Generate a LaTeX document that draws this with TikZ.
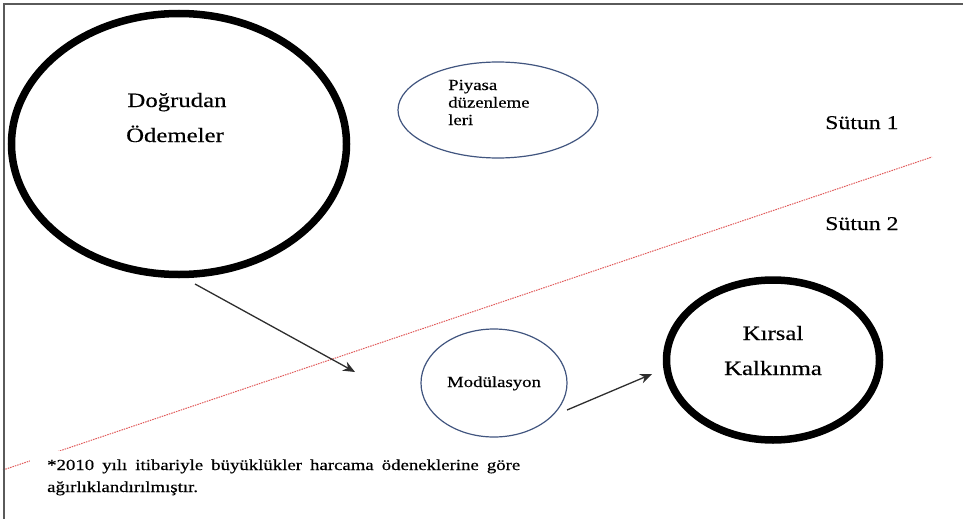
\documentclass[tikz,border=0pt]{standalone}
\usepackage{fontspec}
\setmainfont{Liberation Serif}[FakeStretch=1.22,FakeBold=0.4]
\usetikzlibrary{shapes.geometric,arrows.meta}

\definecolor{framegray}{HTML}{5A5A5A}
\definecolor{ringblue}{HTML}{41557F}
\definecolor{splitred}{HTML}{E05A5A}
\definecolor{arrowgray}{HTML}{2E2E2E}

\tikzset{
  bigring/.style={ellipse, draw=black, line width=7.5pt, inner sep=0pt},
  thinring/.style={ellipse, draw=ringblue, line width=1.2pt, inner sep=0pt},
  biglbl/.style={inner sep=0pt, font=\fontsize{20.3}{24}\selectfont},
  collbl/.style={inner sep=0pt, font=\fontsize{19.5}{23}\selectfont},
  smalllbl/.style={inner sep=0pt, font=\fontsize{15.4}{18}\selectfont},
  flow/.style={draw=arrowgray, line width=1.3pt, -{Stealth[length=12pt,width=10pt]}},
  divider/.style={draw=splitred, line width=1pt, dash pattern=on 1.5pt off 1pt}
}

\begin{document}
\begin{tikzpicture}[x=1pt,y=-1pt]
\useasboundingbox (0,0) rectangle (963,519);

% divider between the two columns
\coordinate (divA) at (3,470);
\coordinate (divB) at (932,157);
\draw[divider] (divA) -- (divB);

% outer frame (top and left edges)
\coordinate (frTR) at (963,4);
\coordinate (frTL) at (4,4);
\coordinate (frBL) at (4,519);
\draw[framegray, line width=2.2pt] (frTR) -- (frTL) -- (frBL);

% rings
\node[bigring, minimum width=335pt, minimum height=261pt] (dogrudan) at (179,144) {};
\node[thinring, minimum width=200pt, minimum height=96pt] (piyasa) at (498,110) {};
\node[thinring, minimum width=146pt, minimum height=108pt] (modul) at (494,383) {};
\node[bigring, minimum width=213pt, minimum height=160pt] (kirsal) at (773,360) {};

% ring labels
\node[biglbl, anchor=base] (dogA) at (177,107) {Doğrudan};
\node[biglbl, anchor=base] (dogB) at (175,142) {Ödemeler};
\node[smalllbl, anchor=base west] (piyA) at (448,90) {Piyasa};
\node[smalllbl, anchor=base west] (piyB) at (448,107.5) {düzenleme};
\node[smalllbl, anchor=base west] (piyC) at (448,125) {leri};
\node[smalllbl, anchor=base] (modA) at (494,387) {Modülasyon};
\node[biglbl, anchor=base] (kirA) at (773,340) {Kırsal};
\node[biglbl, anchor=base] (kirB) at (773,375) {Kalkınma};

% column names
\node[collbl, anchor=base west] (sutun1) at (825,129) {Sütun 1};
\node[collbl, anchor=base west] (sutun2) at (825,230) {Sütun 2};

% arrows
\coordinate (a1s) at (195,284);
\coordinate (a1e) at (355,372);
\coordinate (a2s) at (567,410);
\coordinate (a2e) at (652,374);
\draw[flow] (a1s) -- (a1e);
\draw[flow] (a2s) -- (a2e);

% footnote box
\node[smalllbl, fill=white, inner xsep=17pt, inner ysep=8pt, text width=473pt,
      align=justify, anchor=base west, font=\fontsize{15.4}{22}\selectfont]
  (note) at (30,470)
  {*2010 yılı itibariyle büyüklükler harcama ödeneklerine göre\linebreak
   ağırlıklandırılmıştır.};
\end{tikzpicture}
\end{document}
